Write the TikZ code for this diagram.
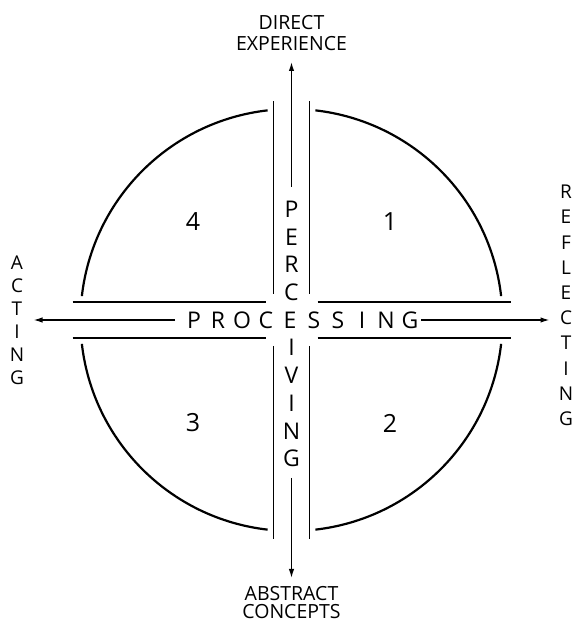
\documentclass[tikz,border=0pt]{standalone}
\usepackage{fontspec}
\setmainfont{Open Sans}
\usetikzlibrary{arrows.meta}
\begin{document}
\begin{tikzpicture}[x=1pt,y=1pt,
  chan/.style={line width=1.5pt},
  ring/.style={line width=2.2pt},
  axis/.style={line width=1.4pt,-{Latex[length=9pt,width=5.5pt]}},
  lbl/.style={font=\fontsize{19.5}{19.5}\selectfont,inner sep=0pt,align=center},
  sidel/.style={font=\fontsize{19}{19}\selectfont,inner sep=0pt},
  core/.style={font=\fontsize{23}{23}\selectfont,inner sep=0pt},
  num/.style={font=\fontsize{25}{25}\selectfont,inner sep=0pt}]
\useasboundingbox (0,0) rectangle (578,624);
\def\cx{291.5}\def\cy{304}
% channel lines
\draw[chan] (273.5,330) -- (273.5,523);
\draw[chan] (309.5,330) -- (309.5,523);
\draw[chan] (273.5,278) -- (273.5,85);
\draw[chan] (309.5,278) -- (309.5,85);
\draw[chan] (72.5,322) -- (265.5,322);
\draw[chan] (72.5,286) -- (265.5,286);
\draw[chan] (317.5,322) -- (510.5,322);
\draw[chan] (317.5,286) -- (510.5,286);
% circle quadrants
\draw[ring] (\cx,\cy) ++(6.5:211pt) arc[start angle=6.5,end angle=83.5,radius=211pt];
\draw[ring] (\cx,\cy) ++(96.5:211pt) arc[start angle=96.5,end angle=173.5,radius=211pt];
\draw[ring] (\cx,\cy) ++(186.5:211pt) arc[start angle=186.5,end angle=263.5,radius=211pt];
\draw[ring] (\cx,\cy) ++(276.5:211pt) arc[start angle=276.5,end angle=353.5,radius=211pt];
% arrow ends
\coordinate (vs1) at (\cx,437);
\coordinate (vtip1) at (\cx,562);
\coordinate (vs2) at (\cx,146);
\coordinate (vtip2) at (\cx,46);
\coordinate (hs1) at (175,\cy);
\coordinate (htip1) at (33.5,\cy);
\coordinate (hs2) at (421,\cy);
\coordinate (htip2) at (549.5,\cy);
\draw[axis] (vs1) -- (vtip1);
\draw[axis] (vs2) -- (vtip2);
\draw[axis] (hs1) -- (htip1);
\draw[axis] (hs2) -- (htip2);
% PERCEIVING (vertical)
\foreach \l [count=\i from 0] in {P,E,R,C,,I,V,I,N,G}{
  \node[core] (pv\i) at (\cx,{\cy-(\i-4)*27.7}) {\l};
}
% PROCESSING (horizontal)
\foreach \l [count=\i from 0] in {P,R,O,C,E,S,S,I,N,G}{
  \node[core] (pr\i) at ({290+(\i-4)*24},\cy) {\l};
}
% numbers
\node[num] (n4) at (193,402) {4};
\node[num] (n1) at (390,402) {1};
\node[num] (n3) at (193,201) {3};
\node[num] (n2) at (390,201) {2};
% top/bottom labels
\node[lbl] (top1) at (\cx,601) {DIRECT};
\node[lbl] (top2) at (\cx,580) {EXPERIENCE};
\node[lbl] (bot1) at (\cx,30) {ABSTRACT};
\node[lbl] (bot2) at (\cx,12) {CONCEPTS};
% side labels
\foreach \l [count=\i from 0] in {A,C,T,I,N,G}{
  \node[sidel] (ac\i) at (17,{361-23*\i}) {\l};
}
\foreach \l [count=\i from 0] in {R,E,F,L,E,C,T,I,N,G}{
  \node[sidel] (rf\i) at (566,{432-25.2*\i}) {\l};
}
\end{tikzpicture}
\end{document}
